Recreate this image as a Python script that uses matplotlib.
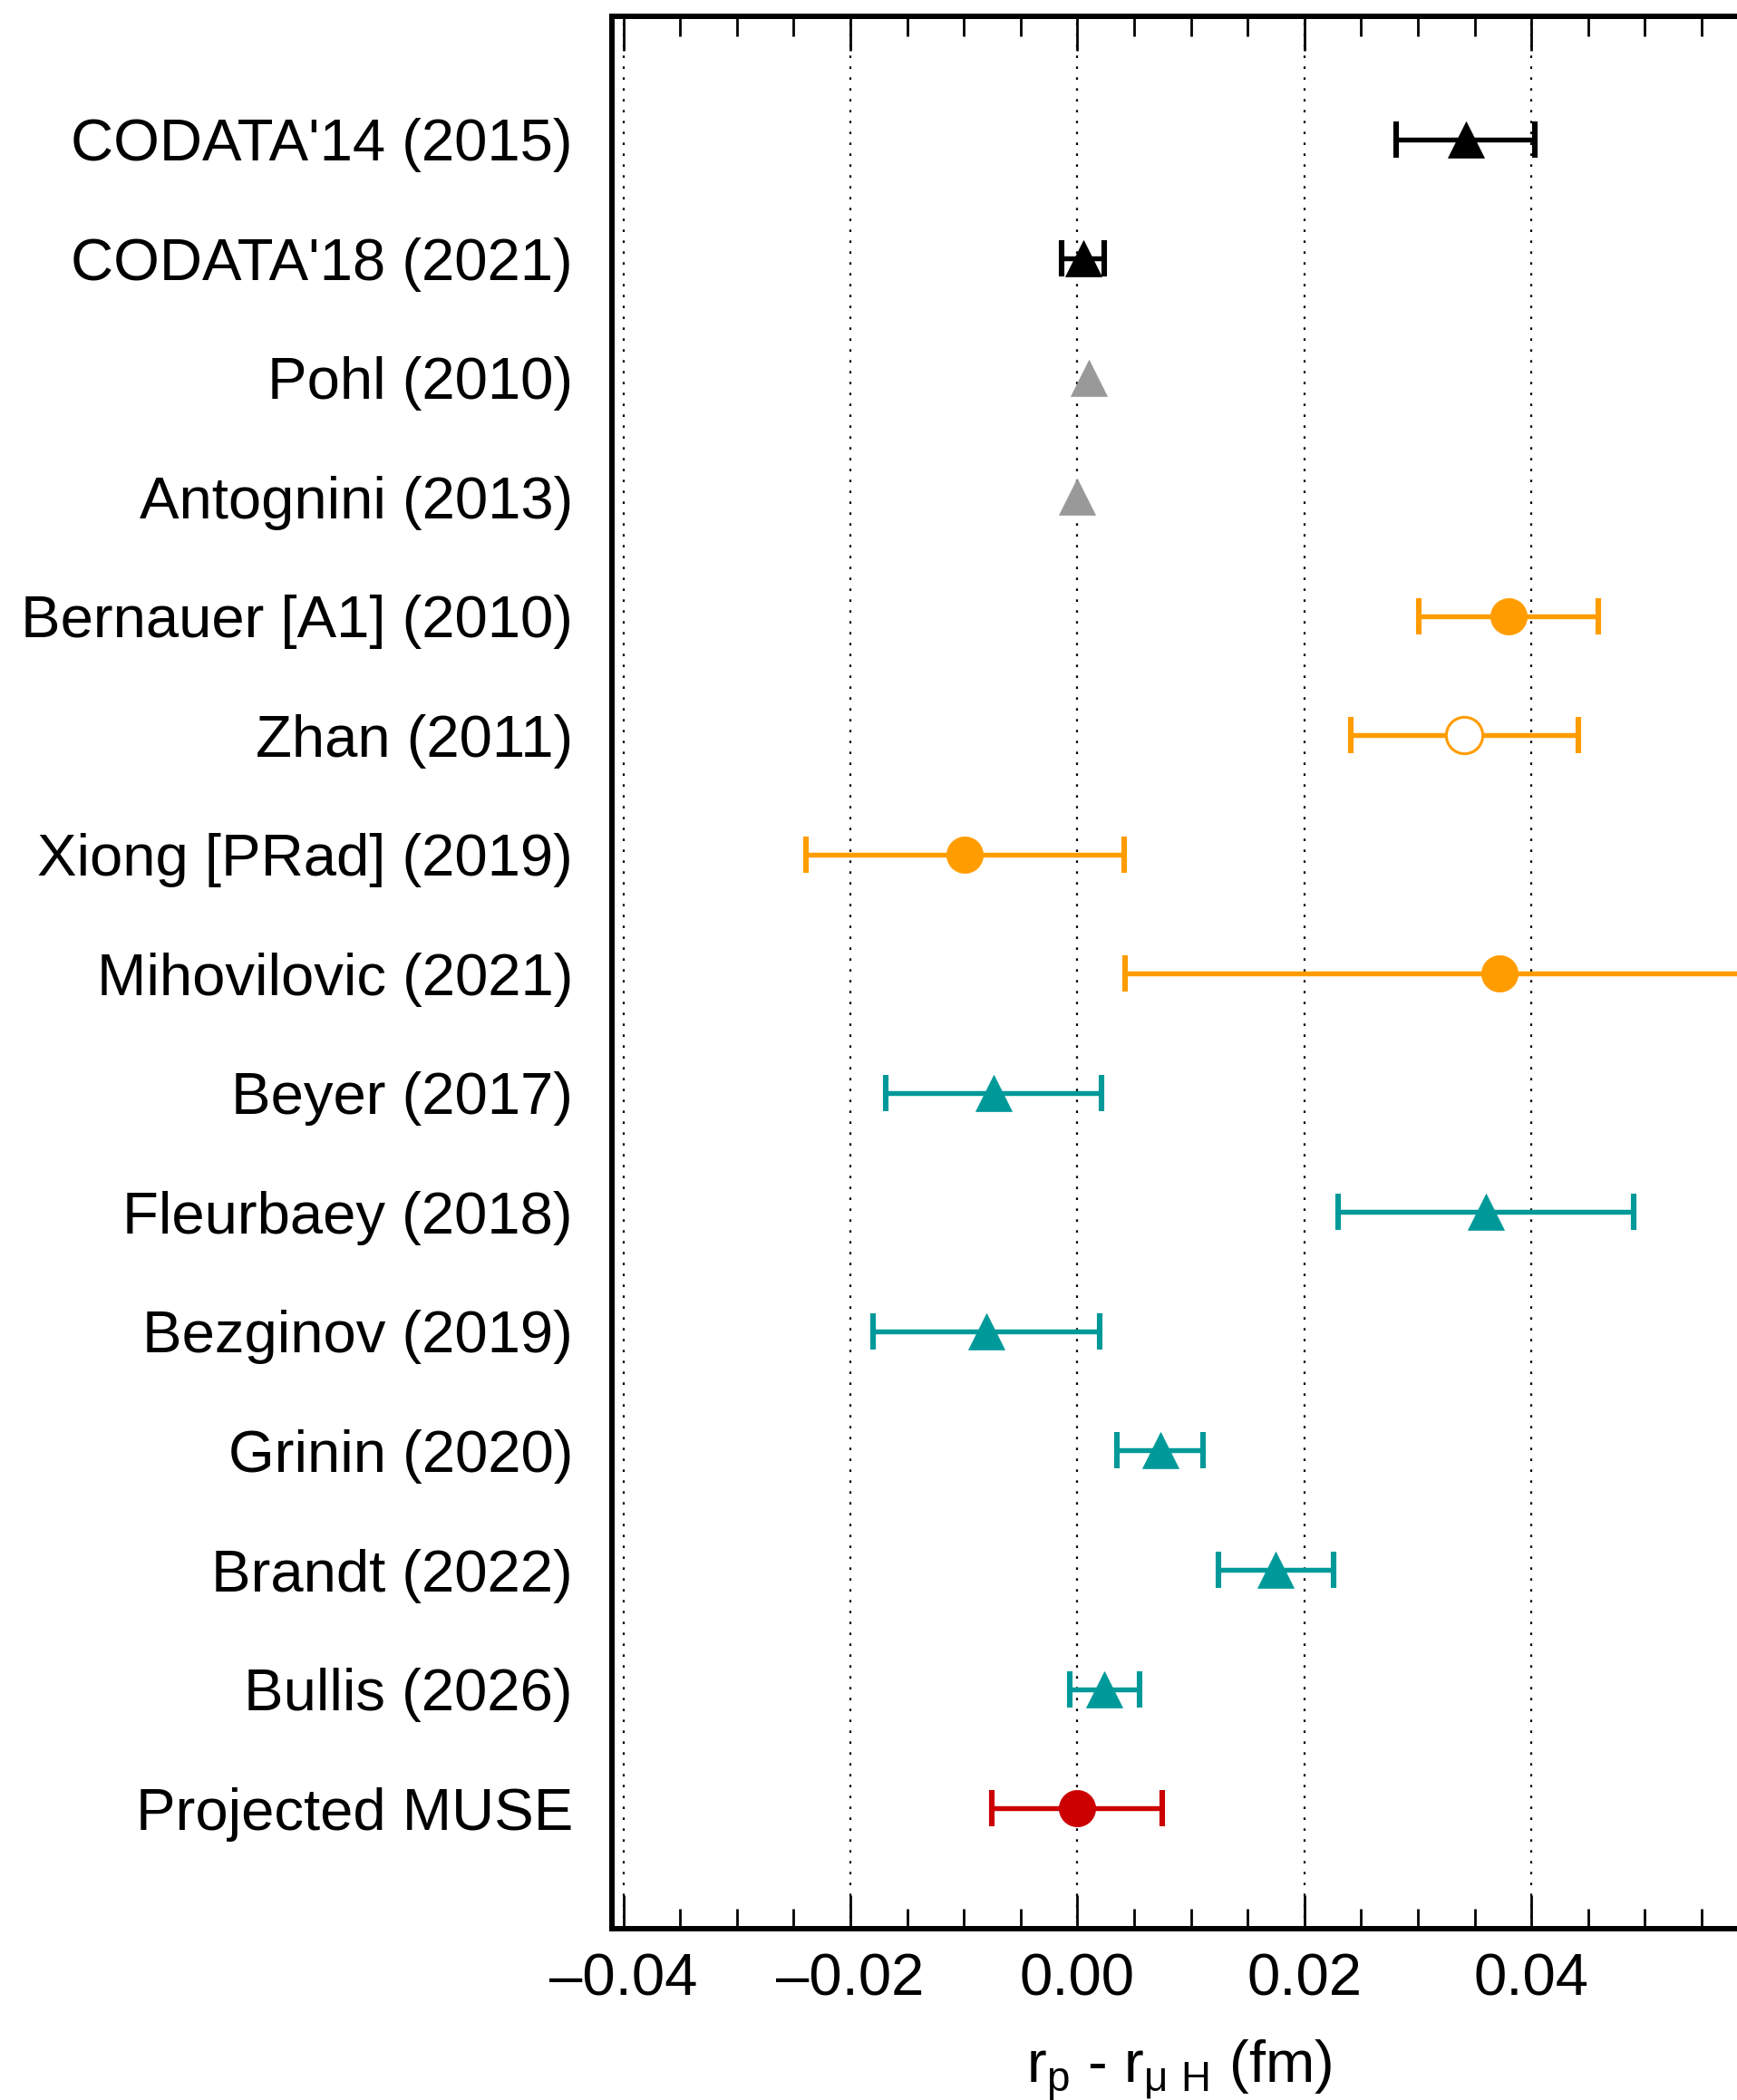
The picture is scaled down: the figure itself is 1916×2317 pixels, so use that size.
import matplotlib
matplotlib.use("Agg")
import matplotlib.pyplot as plt
from matplotlib.ticker import MultipleLocator, FuncFormatter

labels = ["CODATA'14 (2015)", "CODATA'18 (2021)", "Pohl (2010)", "Antognini (2013)",
          "Bernauer [A1] (2010)", "Zhan (2011)", "Xiong [PRad] (2019)", "Mihovilovic (2021)",
          "Beyer (2017)", "Fleurbaey (2018)", "Bezginov (2019)", "Grinin (2020)",
          "Brandt (2022)", "Bullis (2026)", "Projected MUSE"]
values = [0.0342, 0.0005, 0.0010, 0.0000, 0.0380, 0.0341, -0.0099, 0.0372,
          -0.0074, 0.0360, -0.0080, 0.0073, 0.0175, 0.0024, 0.0000]
errors = [0.0061, 0.0019, 0.0, 0.0, 0.0079, 0.0100, 0.0140, 0.0330,
          0.0095, 0.0130, 0.0100, 0.0038, 0.0051, 0.0031, 0.0075]
groups = ["codata", "codata", "muH", "muH", "ep", "ep_open", "ep", "ep",
          "H", "H", "H", "H", "H", "H", "muse"]

styles = {
    "codata": dict(color="#000000", marker="^", mfc="#000000"),
    "muH": dict(color="#999999", marker="^", mfc="#999999"),
    "ep": dict(color="#FF9C00", marker="o", mfc="#FF9C00"),
    "ep_open": dict(color="#FF9C00", marker="o", mfc="white"),
    "H": dict(color="#009999", marker="^", mfc="#009999"),
    "muse": dict(color="#CC0000", marker="o", mfc="#CC0000"),
}

plt.rcParams['font.family'] = ['Liberation Sans', 'DejaVu Sans']
plt.rcParams['mathtext.default'] = 'regular'

fig = plt.figure(figsize=(19.16, 23.17), dpi=100)
ax = fig.add_axes([0.3523, 0.0816, 0.6535, 0.9106])

for i, (v, e, g) in enumerate(zip(values, errors, groups)):
    st = styles[g]
    kw = dict(fmt=st["marker"], color=st["color"], ms=29, mfc=st["mfc"],
              mec=st["color"], zorder=5)
    if e > 0:
        cont = ax.errorbar(v, i, xerr=e, capsize=14.7, elinewidth=3.9,
                           capthick=4.4, **kw)
    else:
        cont = ax.errorbar(v, i, **kw)
    data_line = cont[0]
    data_line.set_markeredgewidth(2.2 if g == "ep_open" else 0.5)

ax.set_xlim(-0.041, 0.059)
ax.set_ylim(14 + 1.01, -1.03)
ax.set_yticks(range(len(labels)))
ax.set_yticklabels(labels, fontsize=47)
ax.tick_params(axis='y', length=0, pad=31)


def fmt(x, pos):
    s = "%.2f" % abs(x)
    return ("\u2013" + s) if x < -1e-9 else s


ax.xaxis.set_major_locator(MultipleLocator(0.02))
ax.xaxis.set_minor_locator(MultipleLocator(0.005))
ax.xaxis.set_major_formatter(FuncFormatter(fmt))
ax.tick_params(axis='x', which='major', direction='in', length=27, width=2.0,
               top=True, bottom=True, labelsize=47, pad=19)
ax.tick_params(axis='x', which='minor', direction='in', length=16, width=2.0,
               top=True, bottom=True)
ax.grid(axis='x', which='major', color='black', linestyle=(0, (1.2, 4.2)),
        linewidth=1.6, zorder=0)
ax.set_axisbelow(True)

for s in ['left', 'top', 'bottom', 'right']:
    ax.spines[s].set_linewidth(4.3)
    ax.spines[s].set_color('black')

ax.set_xlabel('r$_{p}$ - r$_{μ\\ H}$ (fm)', fontsize=47, labelpad=25)

fig.savefig('out.png', dpi=100)
